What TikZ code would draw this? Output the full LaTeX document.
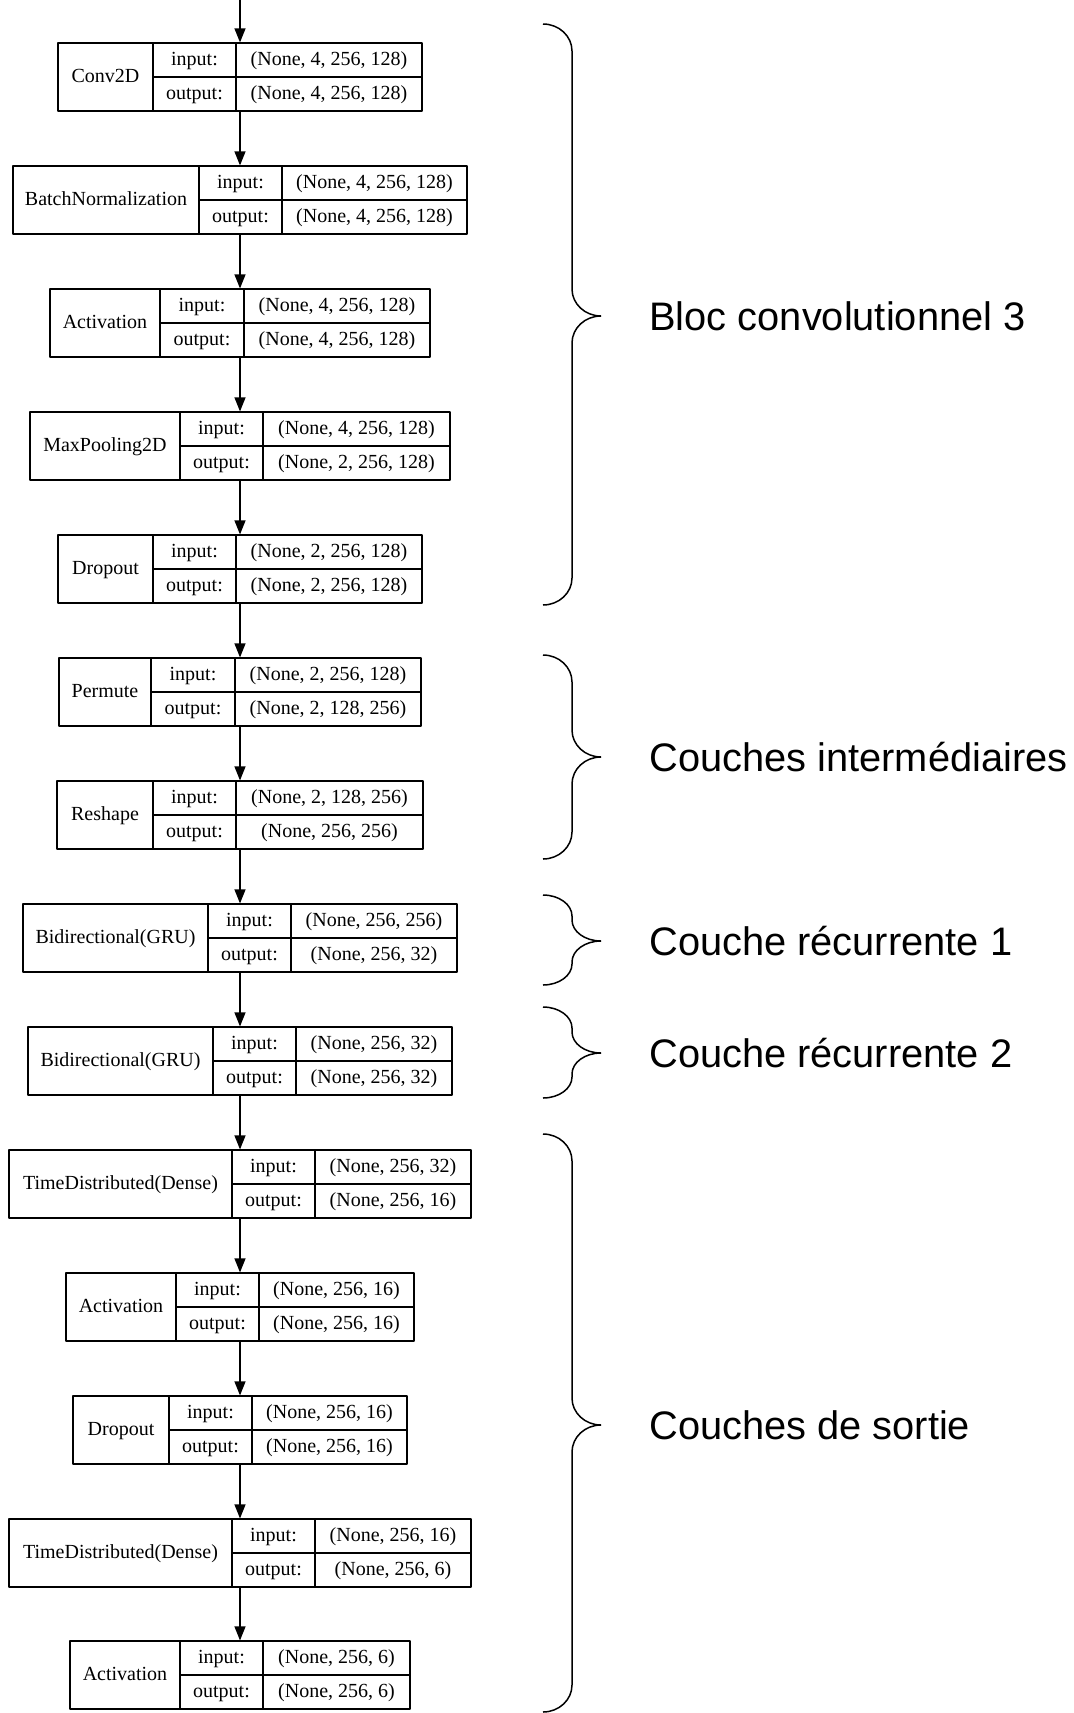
\documentclass[tikz,border=0pt]{standalone}
\usepackage{fontspec}
\setmainfont{Liberation Serif}
\newfontfamily\arial{Liberation Sans}
\usetikzlibrary{arrows.meta,positioning}

\tikzset{
  boite/.style={draw, line width=0.6pt, minimum height=34pt, inner sep=0pt},
  txt/.style={font=\fontsize{10}{12}\selectfont, inner sep=0pt, text height=7pt, text depth=2pt},
  fleche/.style={-{Triangle[length=7pt,width=5.5pt]}, line width=0.6pt},
  legende/.style={font=\arial\fontsize{19.9}{23}\selectfont, inner sep=0pt},
  accol/.style={line width=0.75pt}
}

% couche : nom, y, demi-largeur, separation 1, separation 2, type, entree, sortie
\newcommand{\couche}[8]{%
  \node[boite, minimum width=#3pt] (#1) at (240,#2) {};
  \draw[line width=0.6pt] (#4,#2-34) -- (#4,#2+34) (#5,#2-34) -- (#5,#2+34) (#4,#2) -- (240+#3,#2);
  \node[txt] (#1-type) at ({(240-#3+#4)/2},#2) {#6};
  \node[txt] (#1-in) at ({(#4+#5)/2},#2-17) {input:};
  \node[txt] (#1-out) at ({(#4+#5)/2},#2+17) {output:};
  \node[txt] (#1-dimin) at ({(#5+240+#3)/2},#2-17) {#7};
  \node[txt] (#1-dimout) at ({(#5+240+#3)/2},#2+17) {#8};
}

% accolade : nom de la pointe, haut, pointe, bas, rayon
\newcommand{\accolade}[5]{%
  \draw[accol] (543,#2) .. controls (559,#2) and (572,#2+0.45*#5) .. (572,#2+#5)
    -- (572,#3-#5) .. controls (572,#3-0.45*#5) and (585,#3) .. (601,#3);
  \draw[accol] (543,#4) .. controls (559,#4) and (572,#4-0.45*#5) .. (572,#4-#5)
    -- (572,#3+#5) .. controls (572,#3+0.45*#5) and (585,#3) .. (601,#3);
  \coordinate (#1) at (601,#3);
}

\begin{document}
\begin{tikzpicture}[x=0.5pt, y=-0.5pt, line join=round]
  \useasboundingbox (0,0) rectangle (1073,1713);
  \coordinate (entree) at (240,0);

  % les couches
  \couche{conv}{77}{182}{153}{236}{Conv2D}{(None, 4, 256, 128)}{(None, 4, 256, 128)}
  \couche{bn}{200}{227}{199}{282}{BatchNormalization}{(None, 4, 256, 128)}{(None, 4, 256, 128)}
  \couche{act1}{323}{190}{160}{244}{Activation}{(None, 4, 256, 128)}{(None, 4, 256, 128)}
  \couche{pool}{446}{210}{180}{263}{MaxPooling2D}{(None, 4, 256, 128)}{(None, 2, 256, 128)}
  \couche{drop1}{569}{182}{153}{236}{Dropout}{(None, 2, 256, 128)}{(None, 2, 256, 128)}
  \couche{perm}{692}{181}{151}{235}{Permute}{(None, 2, 256, 128)}{(None, 2, 128, 256)}
  \couche{resh}{815}{183}{153}{236}{Reshape}{(None, 2, 128, 256)}{(None, 256, 256)}
  \couche{gru1}{938}{217}{208}{291}{Bidirectional(GRU)}{(None, 256, 256)}{(None, 256, 32)}
  \couche{gru2}{1061}{212}{213}{296}{Bidirectional(GRU)}{(None, 256, 32)}{(None, 256, 32)}
  \couche{td1}{1184}{231}{232}{315}{TimeDistributed(Dense)}{(None, 256, 32)}{(None, 256, 16)}
  \couche{act2}{1307}{174}{176}{259}{Activation}{(None, 256, 16)}{(None, 256, 16)}
  \couche{drop2}{1430}{167}{169}{252}{Dropout}{(None, 256, 16)}{(None, 256, 16)}
  \couche{td2}{1553}{231}{232}{315}{TimeDistributed(Dense)}{(None, 256, 16)}{(None, 256, 6)}
  \couche{act3}{1675}{170}{180}{263}{Activation}{(None, 256, 6)}{(None, 256, 6)}

  \foreach \a/\b in {entree/conv, conv/bn, bn/act1, act1/pool, pool/drop1, drop1/perm,
      perm/resh, resh/gru1, gru1/gru2, gru2/td1, td1/act2, act2/drop2, drop2/td2, td2/act3}
    \draw[fleche] (\a) -- (\b);

  % accolades et legendes
  \accolade{p1}{24}{316}{605}{27}
  \accolade{p2}{655}{757}{859}{27}
  \accolade{p3}{895}{941}{985}{21}
  \accolade{p4}{1007}{1053}{1098}{21}
  \accolade{p5}{1134}{1425}{1712}{27}
  \node[legende, right=24pt of p1] (bloc3) {Bloc convolutionnel 3};
  \node[legende, right=24pt of p2] (inter) {Couches intermédiaires};
  \node[legende, right=24pt of p3] (rec1) {Couche récurrente 1};
  \node[legende, right=24pt of p4] (rec2) {Couche récurrente 2};
  \node[legende, right=24pt of p5] (sortie) {Couches de sortie};
\end{tikzpicture}
\end{document}
